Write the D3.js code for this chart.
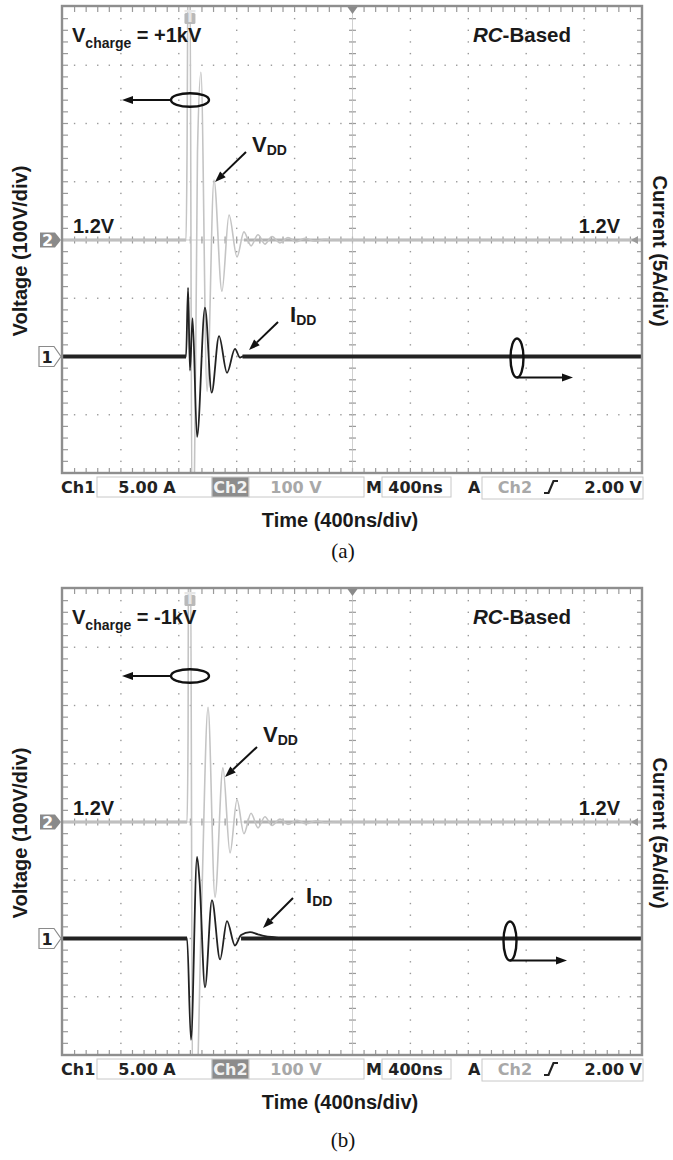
<!DOCTYPE html>
<html>
<head>
<meta charset="utf-8">
<script src="https://cdn.jsdelivr.net/npm/d3@7"></script>
<style>
  body { margin: 0; background: #fff; }
  svg { display: block; }
  .lbl { font-family: "Liberation Sans", Arial, sans-serif; font-weight: bold; fill: #1a1a1a; }
  .scope { font-family: "DejaVu Sans", Verdana, sans-serif; font-weight: bold; font-size: 16px; }
  .cap { font-family: "Liberation Serif", "Times New Roman", serif; font-size: 21px; fill: #111; }
</style>
</head>
<body>
<div id="main"></div>
<script>
/**
 * Two scope captures (RC-based clamp, +1kV / -1kV charge)
 */
const WIDTH = 673;
const HEIGHT = 1160;
const PLOT = { left: 63, right: 642, top: 7, bottom: 473 };

// time base: 10 div x 400 ns
const timeDomain = [0, 4000];
const timeDiv = 400;
// Ch2 (VDD) 100 V/div, Ch1 (IDD) 5 A/div, 8 div tall
const voltDomain = [-400, 400];
const voltDiv = 100;
const currDomain = [-10, 30];
const minorPerDiv = 5;

// status line readouts
const ch1Readout = ["Ch1", "5.00 A"];
const ch2Readout = ["Ch2", "100 V"];
const timeReadout = ["M", "400ns"];
const trigReadout = ["A", "Ch2", "2.00 V"];
const levelLabel = "1.2V";

/**
 * Data (time ns, value)
 */
const vddA = [[0, 0], [850, 0], [857, 150], [864, 480], [877, 480], [891, -480], [905, -480],
  [929, 150], [953, 288], [995, -260], [1043, 103], [1098, -88], [1147, 43], [1202, -29],
  [1250, 14], [1299, -10], [1347, 9], [1395, -7], [1444, 6], [1499, -5], [1554, 4],
  [1610, -3], [1672, 3], [1741, -2], [1810, 1], [1879, 0], [4000, 0]];
const iddA = [[0, 0], [850, 0], [864, 5.9], [877, -1.2], [895, 3.3], [926, -6.9], [981, 4.2],
  [1027, -3.1], [1078, 1.75], [1133, -1.4], [1188, 0.65], [1223, -0.1], [1243, 0], [4000, 0]];

const vddB = [[0, 0], [857, 0], [864, 150], [867, 480], [881, 480], [895, -480], [919, -480],
  [957, -150], [1002, 197], [1050, -129], [1105, 93], [1154, -53], [1202, 38], [1250, -20],
  [1299, 15], [1347, -10], [1395, 9], [1444, -6], [1499, 5], [1554, -4], [1617, 3],
  [1679, -3], [1748, 2], [1817, -1], [1886, 0], [4000, 0]];
const iddB = [[0, 0], [857, 0], [884, -8.7], [926, 7.0], [943, 5.0], [981, -4.2], [1029, 3.3],
  [1085, -1.8], [1133, 1.5], [1188, -0.6], [1230, 0.3], [1292, 0.55], [1347, 0.35],
  [1395, 0.2], [1465, 0.1], [1534, 0], [4000, 0]];

// flat noisy stretches of each trace (ns)
const vBandA = [[0, 850], [1250, 4000]];
const iBandA = [[0, 850], [1240, 4000]];
const vBandB = [[0, 857], [1250, 4000]];
const iBandB = [[0, 857], [1230, 4000]];

const triggerTime = 877;

const panels = [
  {
    id: "a", offset: 0, vdd: vddA, idd: iddA, vBand: vBandA, iBand: iBandA,
    charge: " = +1kV", caption: "(a)", captionY: 558,
    vddLabel: [252, 152], vddArrow: [246, 152, 215, 182],
    iddLabel: [290, 322], iddArrow: [278, 322, 249, 350],
    leftOval: [190, 100], rightOval: [517, 358, 573]
  },
  {
    id: "b", offset: 582, vdd: vddB, idd: iddB, vBand: vBandB, iBand: iBandB,
    charge: " = -1kV", caption: "(b)", captionY: 1147,
    vddLabel: [263, 742], vddArrow: [257, 747, 225, 777],
    iddLabel: [306, 903], iddArrow: [293, 898, 263, 928],
    leftOval: [190, 676], rightOval: [510, 941, 567]
  }
];

function getSvg() {
  return d3.select("#main")
    .append("svg")
    .attr("width", WIDTH)
    .attr("height", HEIGHT)
    .attr("viewBox", [0, 0, WIDTH, HEIGHT]);
}

function arrow(g, x1, y1, x2, y2) {
  const a = Math.atan2(y2 - y1, x2 - x1);
  const L = 11, W = 4;
  const bx = x2 - L * Math.cos(a), by = y2 - L * Math.sin(a);
  g.append("line")
    .attr("x1", x1).attr("y1", y1).attr("x2", bx).attr("y2", by)
    .attr("stroke", "#111").attr("stroke-width", 2);
  g.append("path")
    .attr("d", `M${x2},${y2}L${bx - W * Math.sin(a)},${by + W * Math.cos(a)}L${bx + W * Math.sin(a)},${by - W * Math.cos(a)}Z`)
    .attr("fill", "#111");
}

function renderGrid(g, x, yV, off) {
  const minorT = d3.range(timeDomain[0], timeDomain[1] + 1, timeDiv / minorPerDiv);
  const minorV = d3.range(voltDomain[0], voltDomain[1] + 1, voltDiv / minorPerDiv);
  const majorT = d3.range(timeDomain[0] + timeDiv, timeDomain[1], timeDiv);
  const majorV = d3.range(voltDomain[0] + voltDiv, voltDomain[1], voltDiv);
  const dots = [];
  majorV.forEach(v => minorT.slice(1, -1).forEach(t => dots.push([x(t), yV(v)])));
  majorT.forEach(t => minorV.slice(1, -1).forEach(v => dots.push([x(t), yV(v)])));

  g.append("g").selectAll("rect").data(dots).join("rect")
    .attr("x", d => d[0] - 0.7).attr("y", d => d[1] - 0.7)
    .attr("width", 1.4).attr("height", 1.4)
    .attr("fill", "#9a9a9a");

  const ticks = g.append("g").attr("stroke", "#9a9a9a").attr("stroke-width", 1.2);
  const tc = (timeDomain[0] + timeDomain[1]) / 2;
  minorT.slice(1, -1).forEach(t => {
    ticks.append("line").attr("x1", x(t)).attr("x2", x(t)).attr("y1", yV(400)).attr("y2", yV(400) + 5);
    ticks.append("line").attr("x1", x(t)).attr("x2", x(t)).attr("y1", yV(-400)).attr("y2", yV(-400) - 5);
    ticks.append("line").attr("x1", x(t)).attr("x2", x(t)).attr("y1", yV(0) - 3.5).attr("y2", yV(0) + 3.5);
  });
  minorV.slice(1, -1).forEach(v => {
    ticks.append("line").attr("x1", PLOT.left).attr("x2", PLOT.left + 5).attr("y1", yV(v)).attr("y2", yV(v));
    ticks.append("line").attr("x1", PLOT.right).attr("x2", PLOT.right - 5).attr("y1", yV(v)).attr("y2", yV(v));
    ticks.append("line").attr("x1", x(tc) - 3.5).attr("x2", x(tc) + 3.5).attr("y1", yV(v)).attr("y2", yV(v));
  });
  ticks.append("line").attr("x1", x(tc)).attr("x2", x(tc)).attr("y1", yV(400)).attr("y2", yV(-400))
    .attr("stroke-width", 0.8).attr("stroke", "#c4c4c4");
  ticks.append("line").attr("x1", PLOT.left).attr("x2", PLOT.right).attr("y1", yV(0)).attr("y2", yV(0))
    .attr("stroke-width", 0.8).attr("stroke", "#c4c4c4");
}

function renderTraces(g, p, x, yV, yI, clipId) {
  const tg = g.append("g").attr("clip-path", `url(#${clipId})`);
  const flat = (y) => d3.line().x(d => x(d)).y(() => y(0));

  // Ch2 VDD (light grey)
  p.vBand.forEach(b => tg.append("path").attr("d", flat(yV)(b))
    .attr("stroke", "#b3b3b3").attr("stroke-width", 3.2).attr("fill", "none"));
  tg.append("path")
    .attr("d", d3.line().x(d => x(d[0])).y(d => yV(d[1])).curve(d3.curveMonotoneX)(p.vdd))
    .attr("fill", "none").attr("stroke", "#c4c4c4").attr("stroke-width", 1.6);

  // Ch1 IDD (black)
  p.iBand.forEach(b => tg.append("path").attr("d", flat(yI)(b))
    .attr("stroke", "#222").attr("stroke-width", 4.2).attr("fill", "none"));
  tg.append("path")
    .attr("d", d3.line().x(d => x(d[0])).y(d => yI(d[1])).curve(d3.curveMonotoneX)(p.idd))
    .attr("fill", "none").attr("stroke", "#222").attr("stroke-width", 1.8);
}

function renderMarkers(g, x, yV, yI, off) {
  const y2 = yV(0), y1 = yI(0);
  g.append("path")
    .attr("d", `M40,${y2 - 7.5}H55L61,${y2}L55,${y2 + 7.5}H40Z`)
    .attr("fill", "#8a8a8a");
  g.append("text").attr("class", "scope").attr("x", 47.5).attr("y", y2 + 5.5)
    .attr("text-anchor", "middle").attr("font-size", 14).attr("fill", "#fff").text("2");
  g.append("path")
    .attr("d", `M39,${y1 - 10}H54L61,${y1}L54,${y1 + 10}H39Z`)
    .attr("fill", "#fff").attr("stroke", "#8a8a8a").attr("stroke-width", 1.2);
  g.append("text").attr("class", "scope").attr("x", 47).attr("y", y1 + 6)
    .attr("text-anchor", "middle").attr("font-size", 15).attr("fill", "#222").text("1");

  // trigger level (right), horizontal position (top), trigger point T
  g.append("path").attr("d", `M631,${y2}L638,${y2 - 4}L638,${y2 + 4}Z`).attr("fill", "#9a9a9a");
  const xc = x((timeDomain[0] + timeDomain[1]) / 2);
  g.append("path").attr("d", `M${xc - 5},${PLOT.top + off}H${xc + 5}L${xc},${PLOT.top + off + 7}Z`).attr("fill", "#8a8a8a");
  const xt = x(triggerTime);
  g.append("rect").attr("x", xt - 5.5).attr("y", off + 13).attr("width", 11).attr("height", 11)
    .attr("rx", 1.5).attr("fill", "#b9b9b9");
  g.append("text").attr("class", "scope").attr("x", xt).attr("y", off + 22)
    .attr("text-anchor", "middle").attr("font-size", 10).attr("fill", "#e6e6e6").text("T");
}

function renderStatus(g, off) {
  const y = PLOT.bottom + off;
  const box = (x0, x1, fill, h) => g.append("rect")
    .attr("x", x0).attr("y", y + 4).attr("width", x1 - x0).attr("height", h || 20)
    .attr("fill", fill || "#fff").attr("stroke", "#c8c8c8").attr("stroke-width", 1);
  const txt = (s, x0, color, anchor) => g.append("text").attr("class", "scope")
    .attr("x", x0).attr("y", y + 20).attr("fill", color)
    .attr("text-anchor", anchor || "start").text(s);

  box(97, 212); box(212, 249, "#8c8c8c"); box(249, 364); box(382, 451); box(482, 643, "#fff", 22);
  txt(ch1Readout[0], 61, "#222");
  txt(ch1Readout[1], 147, "#222", "middle");
  txt(ch2Readout[0], 230.5, "#f2f2f2", "middle");
  txt(ch2Readout[1], 296, "#a8a8a8", "middle");
  txt(timeReadout[0], 366, "#222");
  txt(timeReadout[1], 415.5, "#222", "middle");
  txt(trigReadout[0], 468, "#222");
  txt(trigReadout[1], 515, "#a8a8a8", "middle");
  txt(trigReadout[2], 642, "#222", "end");
  g.append("path").attr("d", `M544,${y + 20}H548.5L553.5,${y + 8}H558`)
    .attr("fill", "none").attr("stroke", "#222").attr("stroke-width", 2.2);
}

function renderAnnotations(g, p) {
  const off = p.offset;
  const ch = g.append("text").attr("class", "lbl").attr("x", 72).attr("y", 42 + off).attr("font-size", 20);
  ch.append("tspan").text("V");
  ch.append("tspan").attr("font-size", 14).attr("dy", 6).text("charge");
  ch.append("tspan").attr("dy", -6).text(p.charge);

  const rc = g.append("text").attr("class", "lbl").attr("x", 473).attr("y", 42 + off)
    .attr("font-size", 20.5).attr("fill", "#2a2a2a");
  rc.append("tspan").attr("font-style", "italic").text("RC");
  rc.append("tspan").text("-Based");

  g.append("text").attr("class", "lbl").attr("x", 73).attr("y", 233 + off).attr("font-size", 20).text(levelLabel);
  g.append("text").attr("class", "lbl").attr("x", 620).attr("y", 233 + off).attr("font-size", 20)
    .attr("text-anchor", "end").text(levelLabel);

  const sub = (pos, main) => {
    const t = g.append("text").attr("class", "lbl").attr("x", pos[0]).attr("y", pos[1]).attr("font-size", 22);
    t.append("tspan").text(main);
    t.append("tspan").attr("font-size", 14).attr("dy", 3).text("DD");
  };
  sub(p.vddLabel, "V");
  sub(p.iddLabel, "I");
  arrow(g, ...p.vddArrow);
  arrow(g, ...p.iddArrow);

  const [lx, ly] = p.leftOval;
  g.append("ellipse").attr("cx", lx).attr("cy", ly).attr("rx", 19).attr("ry", 6.8)
    .attr("fill", "none").attr("stroke", "#111").attr("stroke-width", 2.4);
  arrow(g, lx - 19, ly, 122, ly);
  const [rx, ry, rEnd] = p.rightOval;
  g.append("ellipse").attr("cx", rx).attr("cy", ry).attr("rx", 6.5).attr("ry", 19.5)
    .attr("fill", "none").attr("stroke", "#111").attr("stroke-width", 2.4);
  arrow(g, rx, ry + 19.5, rEnd, ry + 19.5);

  // axis titles
  g.append("text").attr("class", "lbl").attr("font-size", 20)
    .attr("transform", `translate(27,${251 + off}) rotate(-90)`)
    .attr("text-anchor", "middle").text("Voltage (100V/div)");
  g.append("text").attr("class", "lbl").attr("font-size", 20)
    .attr("transform", `translate(653,${251 + off}) rotate(90)`)
    .attr("text-anchor", "middle").text("Current (5A/div)");
  g.append("text").attr("class", "lbl").attr("font-size", 20)
    .attr("x", 340).attr("y", 527 + off)
    .attr("text-anchor", "middle").text("Time (400ns/div)");
  g.append("text").attr("class", "cap").attr("x", 343).attr("y", p.captionY)
    .attr("text-anchor", "middle").text(p.caption);
}

function renderPanel(svg, p) {
  const off = p.offset;
  const x = d3.scaleLinear().domain(timeDomain).range([PLOT.left, PLOT.right]);
  const yV = d3.scaleLinear().domain(voltDomain).range([PLOT.bottom + off, PLOT.top + off]);
  const yI = d3.scaleLinear().domain(currDomain).range([PLOT.bottom + off, PLOT.top + off]);
  const g = svg.append("g").attr("id", "panel-" + p.id);
  const clipId = "clip-" + p.id;

  svg.append("clipPath").attr("id", clipId).append("rect")
    .attr("x", PLOT.left).attr("y", PLOT.top + off)
    .attr("width", PLOT.right - PLOT.left).attr("height", PLOT.bottom - PLOT.top);

  renderGrid(g, x, yV, off);
  renderTraces(g, p, x, yV, yI, clipId);

  g.append("rect")
    .attr("x", PLOT.left - 1).attr("y", PLOT.top + off - 1)
    .attr("width", PLOT.right - PLOT.left + 1).attr("height", PLOT.bottom - PLOT.top + 1)
    .attr("fill", "none").attr("stroke", "#8e8e8e").attr("stroke-width", 2.4);

  renderMarkers(g, x, yV, yI, off);
  renderStatus(g, off);
  renderAnnotations(g, p);
}

function startScripts() {
  const svg = getSvg();
  svg.append("rect").attr("width", WIDTH).attr("height", HEIGHT).attr("fill", "#fff");
  panels.forEach(p => renderPanel(svg, p));
}

startScripts();
</script>
</body>
</html>
